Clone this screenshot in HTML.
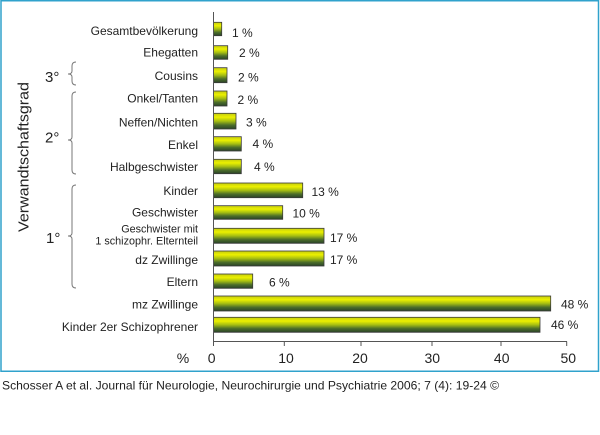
<!DOCTYPE html>
<html>
<head>
<meta charset="utf-8">
<style>
  html, body { margin: 0; padding: 0; background: #ffffff; }
  svg { display: block; }
  text { font-family: "Liberation Sans", Arial, sans-serif; fill: #222; }
</style>
</head>
<body>
<svg width="600" height="435" viewBox="0 0 600 435" xmlns="http://www.w3.org/2000/svg">
  <defs>
    <linearGradient id="bg" x1="0" y1="0" x2="0" y2="1">
      <stop offset="0" stop-color="#c4cc10"/>
      <stop offset="0.25" stop-color="#ecf000"/>
      <stop offset="0.5" stop-color="#a6be12"/>
      <stop offset="0.75" stop-color="#4c6e2a"/>
      <stop offset="1" stop-color="#2a4228"/>
    </linearGradient>
  </defs>

  <!-- chart frame -->
  <rect x="1" y="0.75" width="597.5" height="370.5" fill="#ffffff" stroke="#30a2cc" stroke-width="1.5"/>

  <!-- y-axis title -->
  <text transform="translate(28.5,157) rotate(-90)" text-anchor="middle" font-size="15" textLength="150" lengthAdjust="spacingAndGlyphs">Verwandtschaftsgrad</text>

  <!-- degree labels -->
  <text x="45" y="82" font-size="15">3°</text>
  <text x="45" y="142.5" font-size="15">2°</text>
  <text x="46" y="243" font-size="15">1°</text>

  <!-- braces -->
  <g fill="none" stroke="#777" stroke-width="1">
    <path d="M76,62 Q72,62 72,66 L72,71 Q72,74 68,74 Q72,74 72,77 L72,81 Q72,85 76,85"/>
    <path d="M76,92 Q72,92 72,96 L72,137 Q72,140 68,140 Q72,140 72,143 L72,170 Q72,174 76,174"/>
    <path d="M76,185 Q72,185 72,189 L72,233 Q72,236 68,236 Q72,236 72,239 L72,284 Q72,288 76,288"/>
  </g>

  <!-- category labels -->
  <g font-size="12" text-anchor="end">
    <text x="198" y="35">Gesamtbevölkerung</text>
    <text x="198" y="56.5">Ehegatten</text>
    <text x="198" y="80">Cousins</text>
    <text x="198" y="102.5">Onkel/Tanten</text>
    <text x="198" y="126.5">Neffen/Nichten</text>
    <text x="198" y="149">Enkel</text>
    <text x="198" y="171">Halbgeschwister</text>
    <text x="198" y="195">Kinder</text>
    <text x="198" y="216.5">Geschwister</text>
    <text x="198" y="232.3" font-size="10.8">Geschwister mit</text>
    <text x="198" y="244.7" font-size="10.8">1 schizophr. Elternteil</text>
    <text x="198" y="264">dz Zwillinge</text>
    <text x="198" y="286">Eltern</text>
    <text x="198" y="308.5">mz Zwillinge</text>
    <text x="198" y="331">Kinder 2er Schizophrener</text>
  </g>

  <!-- bars -->
  <g fill="url(#bg)" stroke="#3a3a3a" stroke-width="0.8">
    <rect x="213.5" y="22.3" width="8.2" height="13.4"/>
    <rect x="213.5" y="45.7" width="14.2" height="13.6"/>
    <rect x="213.5" y="67.7" width="13.5" height="15"/>
    <rect x="213.5" y="91" width="13.5" height="15"/>
    <rect x="213.5" y="113.3" width="22.5" height="15.7"/>
    <rect x="213.5" y="136.7" width="27.8" height="14.3"/>
    <rect x="213.5" y="159.3" width="27.8" height="14.4"/>
    <rect x="213.5" y="183" width="89.2" height="14.7"/>
    <rect x="213.5" y="205.7" width="69.2" height="13.6"/>
    <rect x="213.5" y="228.3" width="110.5" height="15"/>
    <rect x="213.5" y="251" width="110.5" height="15"/>
    <rect x="213.5" y="274" width="39.2" height="14.3"/>
    <rect x="213.5" y="296" width="337.2" height="15"/>
    <rect x="213.5" y="317.3" width="326.5" height="15"/>
  </g>

  <!-- value labels -->
  <g font-size="12">
    <text x="232" y="37">1 %</text>
    <text x="239" y="57">2 %</text>
    <text x="238" y="81.5">2 %</text>
    <text x="237.5" y="104.2">2 %</text>
    <text x="246" y="126.5">3 %</text>
    <text x="252.5" y="148.2">4 %</text>
    <text x="254" y="171">4 %</text>
    <text x="311.5" y="196">13 %</text>
    <text x="292.5" y="217.5">10 %</text>
    <text x="330" y="242">17 %</text>
    <text x="330" y="264.2">17 %</text>
    <text x="269" y="286.5">6 %</text>
    <text x="561" y="308.5">48 %</text>
    <text x="551" y="329.2">46 %</text>
  </g>

  <!-- axes -->
  <g stroke="#555" stroke-width="1" fill="none">
    <line x1="213.5" y1="12" x2="213.5" y2="346"/>
    <line x1="213.5" y1="341.5" x2="567" y2="341.5"/>
    <line x1="284.3" y1="341.5" x2="284.3" y2="346"/>
    <line x1="361" y1="341.5" x2="361" y2="346"/>
    <line x1="432" y1="341.5" x2="432" y2="346"/>
    <line x1="501" y1="341.5" x2="501" y2="346"/>
    <line x1="566.7" y1="341.5" x2="566.7" y2="346"/>
  </g>

  <!-- tick labels -->
  <g font-size="14" text-anchor="middle">
    <text x="183" y="363">%</text>
    <text x="211.7" y="363">0</text>
    <text x="286" y="363">10</text>
    <text x="360" y="363">20</text>
    <text x="432.3" y="363">30</text>
    <text x="501.7" y="363">40</text>
    <text x="568.3" y="363">50</text>
  </g>

  <!-- caption -->
  <text x="2" y="389.5" font-size="12" textLength="497" lengthAdjust="spacingAndGlyphs" fill="#111">Schosser A et al. Journal für Neurologie, Neurochirurgie und Psychiatrie 2006; 7 (4): 19-24 ©</text>
</svg>
</body>
</html>
